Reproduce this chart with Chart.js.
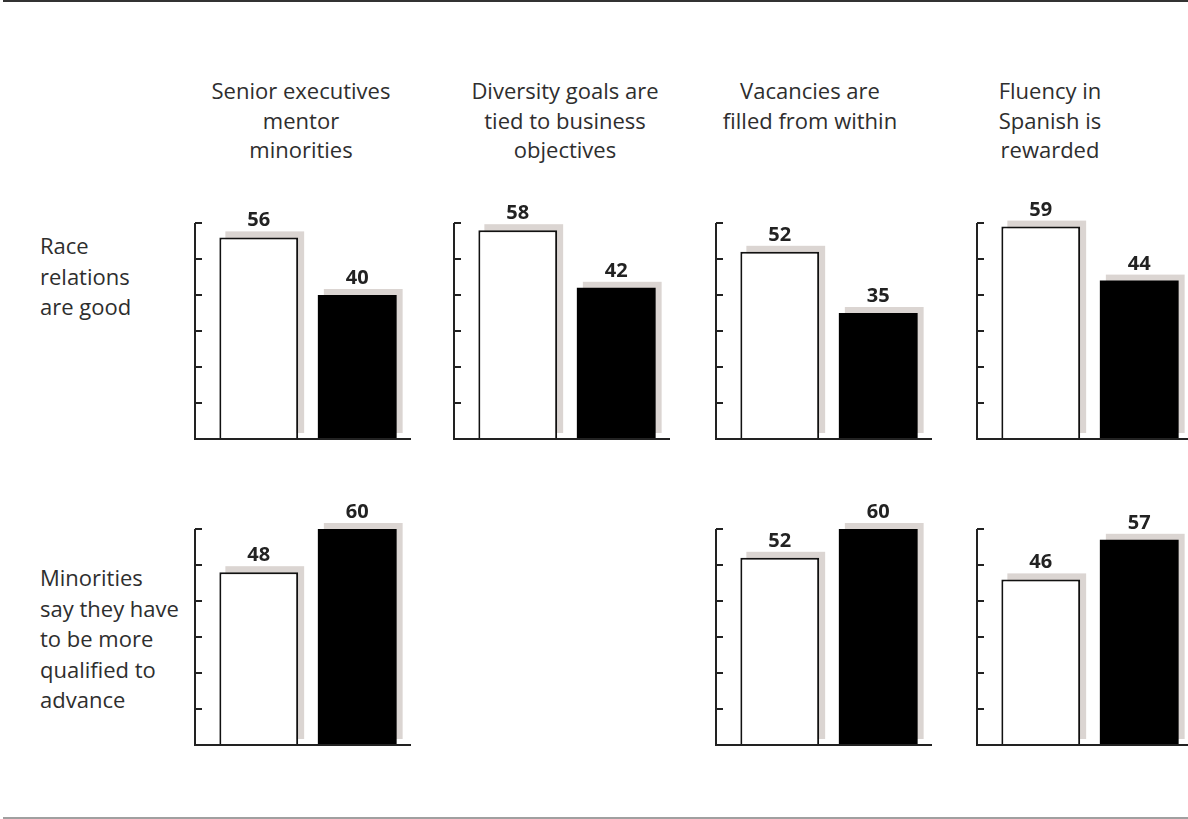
<!DOCTYPE html>
<html>
<head>
<meta charset="utf-8">
<script src="https://cdn.jsdelivr.net/npm/chart.js@4.4.0/dist/chart.umd.min.js"></script>
<style>
  body { margin: 0; background: #fff; }
  #page { position: relative; width: 1188px; height: 819px; overflow: hidden; font-family: "Open Sans", sans-serif; color: #2e2e2e; }
  .rule-top { position: absolute; left: 3px; right: 0; top: 0; height: 2px; background: #333; }
  .rule-bottom { position: absolute; left: 3px; right: 0; top: 817px; height: 2px; background: #a0a0a0; }
  .title { position: absolute; width: 240px; text-align: center; font-size: 22px; line-height: 29.5px; top: 76px; }
  .rowlabel { position: absolute; left: 40px; font-size: 22px; line-height: 30.5px; }
  canvas { position: absolute; }
</style>
</head>
<body>
<div id="page">
  <div class="rule-top"></div>
  <div class="rule-bottom"></div>
</div>
<script>
// column titles and row labels
const columnTitles = [
    ["Senior executives", "mentor", "minorities"],
    ["Diversity goals are", "tied to business", "objectives"],
    ["Vacancies are", "filled from within"],
    ["Fluency in", "Spanish is", "rewarded"]
];
const rowLabels = [
    ["Race", "relations", "are good"],
    ["Minorities", "say they have", "to be more", "qualified to", "advance"]
];

// values (white bar / black bar), null = no panel
const whiteRow1 = [56, 58, 52, 59];
const blackRow1 = [40, 42, 35, 44];
const whiteRow2 = [48, null, 52, 46];
const blackRow2 = [60, null, 60, 57];

const yTicks = [0, 10, 20, 30, 40, 50, 60];

// layout
const colAxisX = [195, 454, 716, 977];
const titleCenterX = [301, 565, 810, 1050];
const rowTopY = [223, 529];
const rowLabelTop = [230, 562];
const plotW = 216, plotH = 216;

const page = document.getElementById("page");

columnTitles.forEach((lines, i) => {
    const d = document.createElement("div");
    d.className = "title";
    d.style.left = (titleCenterX[i] - 120) + "px";
    d.innerHTML = lines.join("<br>");
    page.appendChild(d);
});
rowLabels.forEach((lines, i) => {
    const d = document.createElement("div");
    d.className = "rowlabel";
    d.style.top = rowLabelTop[i] + "px";
    d.innerHTML = lines.join("<br>");
    page.appendChild(d);
});

// gray drop shadow behind each bar
const shadowPlugin = {
    id: "shadow",
    beforeDatasetsDraw(chart) {
        const ctx = chart.ctx;
        ctx.save();
        ctx.fillStyle = "#dbd5d2";
        chart.data.datasets.forEach((ds, di) => {
            chart.getDatasetMeta(di).data.forEach(bar => {
                const p = bar.getProps(["x", "y", "base", "width"], true);
                ctx.fillRect(p.x - p.width / 2 + 6, p.y - 6, p.width, p.base - p.y);
            });
        });
        ctx.restore();
    }
};

// axes with inward ticks + value labels
const axisPlugin = {
    id: "axes",
    afterDatasetsDraw(chart) {
        const ctx = chart.ctx;
        const yScale = chart.scales.y;
        const ax = chart.chartArea.left - 5;
        const base = yScale.getPixelForValue(0);
        ctx.save();
        ctx.strokeStyle = "#222";
        ctx.lineWidth = 2;
        ctx.beginPath();
        ctx.moveTo(ax, yScale.getPixelForValue(yTicks[yTicks.length - 1]));
        ctx.lineTo(ax, base);
        ctx.lineTo(ax + plotW, base);
        yTicks.forEach(v => {
            if (v === 0) return;
            const py = yScale.getPixelForValue(v);
            ctx.moveTo(ax, py);
            ctx.lineTo(ax + 7, py);
        });
        ctx.stroke();

        ctx.fillStyle = "#222";
        ctx.font = "bold 20px 'Open Sans', sans-serif";
        ctx.textAlign = "center";
        ctx.textBaseline = "alphabetic";
        chart.data.datasets.forEach((ds, di) => {
            chart.getDatasetMeta(di).data.forEach((bar, i) => {
                ctx.fillText(String(ds.data[i]), bar.x, bar.y - 11);
            });
        });
        ctx.restore();
    }
};

function makePanel(row, col, whiteVal, blackVal) {
    const padL = 20, padT = 45, cw = 250, chh = 280;
    const canvas = document.createElement("canvas");
    canvas.width = cw;
    canvas.height = chh;
    canvas.style.left = (colAxisX[col] - 15) + "px";
    canvas.style.top = (rowTopY[row] - padT) + "px";
    page.appendChild(canvas);

    new Chart(canvas, {
        type: "bar",
        data: {
            labels: [""],
            datasets: [
                { data: [whiteVal], backgroundColor: "#fff", borderColor: "#111", borderWidth: 2 },
                { data: [blackVal], backgroundColor: "#000", borderColor: "#000", borderWidth: 0 }
            ]
        },
        options: {
            responsive: false,
            animation: false,
            devicePixelRatio: 1,
            layout: { padding: { left: padL, top: padT, right: cw - padL - plotW, bottom: chh - padT - plotH } },
            datasets: { bar: { categoryPercentage: 0.912, barPercentage: 0.8 } },
            plugins: { legend: { display: false }, tooltip: { enabled: false } },
            scales: {
                x: { display: false },
                y: { display: false, min: 0, max: 60 }
            }
        },
        plugins: [shadowPlugin, axisPlugin]
    });
}

[[whiteRow1, blackRow1], [whiteRow2, blackRow2]].forEach((vals, row) => {
    vals[0].forEach((w, col) => {
        if (w === null) return;
        makePanel(row, col, w, vals[1][col]);
    });
});
</script>
</body>
</html>
